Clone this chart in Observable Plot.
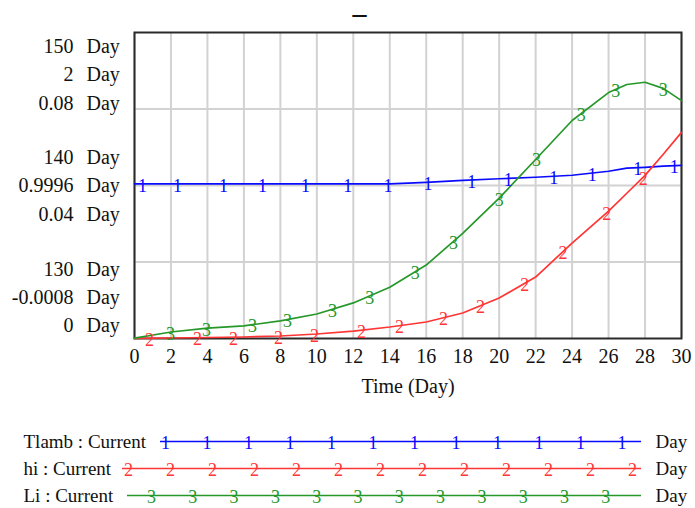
<!DOCTYPE html>
<html><head><meta charset="utf-8">
<script src="https://cdn.jsdelivr.net/npm/d3@7"></script>
<script src="https://cdn.jsdelivr.net/npm/@observablehq/plot@0.6"></script>
<style>
body{margin:0;background:#fff;}
#chart{width:695px;height:508px;overflow:hidden;}
#chart svg{display:block;}
</style></head><body><div id="chart"></div>
<script>
// ---- data ----
const time  = [0,2,4,6,8,10,12,14,16,18,20,22,24,26,27,28,29,30];
const tlamb = [140.11,140.11,140.11,140.11,140.11,140.11,140.11,140.11,140.21,140.34,140.44,140.54,140.67,140.93,141.13,141.19,141.26,141.32];
const hi    = [0,0.0025,0.0058,0.009,0.0156,0.0286,0.048,0.0743,0.107,0.166,0.264,0.401,0.623,0.832,0.949,1.066,1.204,1.347];
const li    = [0.0001,0.0017,0.0027,0.0033,0.0046,0.0064,0.0093,0.0134,0.0192,0.0275,0.0367,0.0468,0.0570,0.0643,0.0664,0.0670,0.0654,0.0622];

const seriesNames  = ["Tlamb", "hi", "Li"];
const legendLabels = ["Tlamb : Current", "hi : Current", "Li : Current"];
const markerGlyphs = ["1", "2", "3"];
const colors       = ["#0a0aff", "#ff3535", "#26982a"];
const scaleRanges  = [[130, 150], [-0.0008, 2], [0, 0.08]];
const tlambTicks = ["150", "140", "130"];
const hiTicks    = ["2", "0.9996", "-0.0008"];
const liTicks    = ["0.08", "0.04", "0"];
const tickLevels = [1, 0.5, 0];
const unitLabel  = "Day";
const xTicks = [0,2,4,6,8,10,12,14,16,18,20,22,24,26,28,30];
const xLabel = "Time (Day)";
const title  = "_";

// times at which the series number glyphs sit on each line
const tlambMarkers = [0.44,2.36,4.88,7.02,9.38,11.7,13.9,16.1,18.5,20.5,23.0,25.1,27.6,29.6];
const hiMarkers    = [0.82,3.46,5.43,7.9,9.87,12.45,14.54,16.95,18.98,21.4,23.5,25.9,27.9];
const liMarkers    = [1.97,3.95,6.47,8.39,10.86,12.9,15.4,17.5,20.0,22.05,24.5,26.4,29.0];

// ---- build tables ----
const values  = [tlamb, hi, li];
const markers = [tlambMarkers, hiMarkers, liMarkers];
const tickSets = [tlambTicks, hiTicks, liTicks];
const norm = (v, [lo, up]) => (v - lo) / (up - lo);

const rows = [];
values.forEach((arr, i) => arr.forEach((v, k) =>
  rows.push({series: seriesNames[i], t: time[k], f: norm(v, scaleRanges[i])})));

const interp = (arr, t) => {
  const k = Math.min(d3.bisectRight(time, t), time.length - 1);
  const t0 = time[k - 1], t1 = time[k];
  return arr[k - 1] + (arr[k] - arr[k - 1]) * (t - t0) / (t1 - t0);
};
const markerRows = [];
markers.forEach((ms, i) => ms.forEach(t =>
  markerRows.push({series: seriesNames[i], t, f: norm(interp(values[i], t), scaleRanges[i]), g: markerGlyphs[i]})));

// y-axis label stacks: offsets (px, downward) of the three rows at each tick level
const plotH = 306;
const stackOffsets = [[14, 42.5, 71.5], [-28, 0, 29.5], [-69, -41, -13]];
const yLabelRows = [];
tickLevels.forEach((lev, j) => tickSets.forEach((ts, i) =>
  yLabelRows.push({pos: lev - stackOffsets[j][i] / plotH, label: ts[j]})));

const colorOf = s => colors[seriesNames.indexOf(s)];
const font = "'Liberation Serif', 'Times New Roman', serif";

const main = Plot.plot({
  width: 695, height: 410,
  marginLeft: 134, marginRight: 14, marginTop: 32, marginBottom: 72,
  style: {fontFamily: font, fontSize: "20px", background: "#fff", color: "#111", overflow: "visible"},
  x: {domain: [0, 30], axis: null},
  y: {domain: [0, 1], axis: null},
  marks: [
    Plot.ruleX(xTicks, {stroke: "#d2d2d2", strokeWidth: 2}),
    Plot.ruleY([0.25, 0.5, 0.75], {stroke: "#d2d2d2", strokeWidth: 2}),
    Plot.frame({stroke: "#2a2a2a", strokeWidth: 2}),
    Plot.line(rows, {x: "t", y: "f", z: "series", stroke: d => colorOf(d.series), strokeWidth: 1.7}),
    Plot.text(markerRows, {x: "t", y: "f", text: "g", fill: d => colorOf(d.series), fontSize: 18, dy: 2}),
    Plot.text(xTicks, {x: d => d, frameAnchor: "bottom", dy: 24, text: d => String(d)}),
    Plot.text([xLabel], {frameAnchor: "bottom", dy: 54}),
    Plot.text(yLabelRows, {y: "pos", frameAnchor: "left", dx: -61, text: "label", textAnchor: "end"}),
    Plot.text(yLabelRows, {y: "pos", frameAnchor: "left", dx: -48, text: () => unitLabel, textAnchor: "start"}),
    Plot.text([title], {frameAnchor: "top-left", dx: 225, dy: -20, lineAnchor: "bottom", textAnchor: "middle", fontSize: 28, fontWeight: "bold"})
  ]
});

// ---- legend ----
const legendStart = [160, 122, 127];
const legendEnd = 641;
const legendFirstMarker = [165, 128, 151];
const legendMarkerCount = [12, 13, 12];
const legendStep = [41.5, 42, 41.3];
const legendRows = seriesNames.map((s, i) => ({series: s, label: legendLabels[i], x1: legendStart[i]}));
const legendMarks = [];
seriesNames.forEach((s, i) => d3.range(legendMarkerCount[i]).forEach(k =>
  legendMarks.push({series: s, x: legendFirstMarker[i] + k * legendStep[i], g: markerGlyphs[i]})));

const legend = Plot.plot({
  width: 695, height: 98, margin: 0,
  style: {fontFamily: font, fontSize: "19px", background: "#fff", color: "#111"},
  x: {type: "identity", axis: null},
  y: {type: "point", domain: seriesNames, range: [31, 85], padding: 0, axis: null},
  marks: [
    Plot.ruleY(legendRows, {y: "series", x1: "x1", x2: legendEnd, stroke: d => colorOf(d.series), strokeWidth: 1.7}),
    Plot.text(legendMarks, {x: "x", y: "series", text: "g", fill: d => colorOf(d.series), fontSize: 18, dy: 2}),
    Plot.text(legendRows, {x: 23, y: "series", text: "label", textAnchor: "start"}),
    Plot.text(legendRows, {x: 655, y: "series", text: () => unitLabel, textAnchor: "start"})
  ]
});

document.getElementById("chart").append(main, legend);
</script></body></html>
